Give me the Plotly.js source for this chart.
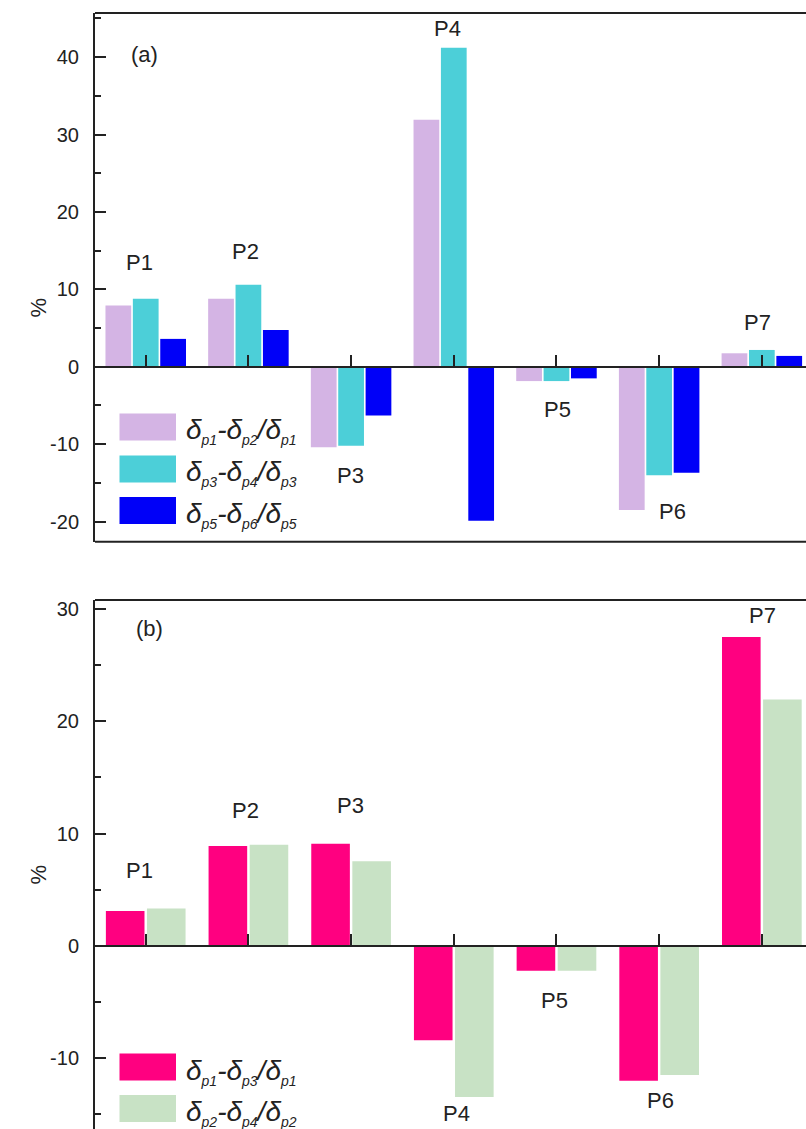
<!DOCTYPE html>
<html>
<head>
<meta charset="utf-8">
<script src="https://cdn.plot.ly/plotly-3.0.1.min.js"></script>
<style>html,body{margin:0;padding:0;background:#fff;}#chart{width:806px;height:1129px;}</style>
</head>
<body>
<div id="chart"></div>
<script>
// ---------- DATA ----------
const categories = ['P1', 'P2', 'P3', 'P4', 'P5', 'P6', 'P7'];
// panel (a)
const seriesA1 = [7.9, 8.8, -10.4, 31.9, -1.85, -18.5, 1.74];
const seriesA2 = [8.8, 10.6, -10.2, 41.2, -1.85, -14.0, 2.17];
const seriesA3 = [3.6, 4.75, -6.3, -19.9, -1.5, -13.7, 1.4];
// panel (b)
const seriesB1 = [3.12, 8.9, 9.1, -8.4, -2.2, -12.0, 27.5];
const seriesB2 = [3.34, 9.0, 7.55, -13.45, -2.2, -11.5, 21.95];
// legend names: subscripts of [numerator a, numerator b, denominator]
const legendSubsA = [['p1', 'p2', 'p1'], ['p3', 'p4', 'p3'], ['p5', 'p6', 'p5']];
const legendSubsB = [['p1', 'p3', 'p1'], ['p2', 'p4', 'p2']];
// tick labels
const tickValsA = [-20, -10, 0, 10, 20, 30, 40];
const tickTextA = ['-20', '-10', '0', '10', '20', '30', '40'];
const tickValsB = [-10, 0, 10, 20, 30];
const tickTextB = ['-10', '0', '10', '20', '30'];
const panelTitles = ['(a)', '(b)'];
const yTitle = '%';

// ---------- STYLE / LAYOUT ----------
const W = 806, H = 1129, ML = 95;
const fx = px => (px - ML) / (W - ML);
const fy = py => 1 - py / H;
const colorsA = ['#D4B4E4', '#4CCFD8', '#0000F8'];
const colorsB = ['#FF0080', '#C8E2C5'];
const ink = '#222222';
const font = 'Arial, "Liberation Sans", sans-serif';

const sub = s => '<sub><span style="font-size:14px">' + s + '</span></sub>';
const legendName = subs => '<i>δ' + sub(subs[0]) + '-δ' + sub(subs[1]) + '/δ' + sub(subs[2]) + '</i>';
const namesA = legendSubsA.map(legendName);
const namesB = legendSubsB.map(legendName);

const domA = [fy(541.7), fy(13)];
const domB = [0, fy(600)];
const rangeA = [-22.6, 45.7];
const rangeB = [-16.3, 30.8];
const xRange = [-0.494, 6.43];
const zeroPos = (dom, r) => dom[0] + (0 - r[0]) / (r[1] - r[0]) * (dom[1] - dom[0]);

const traces = [];
[seriesA1, seriesA2, seriesA3].forEach((s, i) => traces.push({
  type: 'bar', x: categories, y: s, name: namesA[i], xaxis: 'x', yaxis: 'y',
  marker: {color: colorsA[i], line: {width: 0}}, showlegend: false, hoverinfo: 'y'
}));
[seriesB1, seriesB2].forEach((s, i) => traces.push({
  type: 'bar', x: categories, y: s, name: namesB[i], xaxis: 'x2', yaxis: 'y2',
  marker: {color: colorsB[i], line: {width: 0}}, showlegend: false, hoverinfo: 'y'
}));

function yAxis(dom, range, tv, tt, anchor) {
  return {
    domain: dom, range: range, anchor: anchor, showgrid: false, zeroline: false,
    showline: true, linecolor: ink, linewidth: 2,
    ticks: 'inside', ticklen: 11, tickwidth: 2, tickcolor: ink,
    tickmode: 'array', tickvals: tv, ticktext: tt, ticklabelstandoff: 10,
    tickfont: {family: font, size: 20, color: ink},
    minor: {dtick: 5, tick0: 0, ticks: 'inside', ticklen: 6, tickwidth: 2, tickcolor: ink, showgrid: false}
  };
}
function xAxis(pos) {
  return {
    domain: [0, 1], range: xRange, type: 'category', anchor: 'free', position: pos,
    showgrid: false, zeroline: false, showline: true, linecolor: ink, linewidth: 2,
    ticks: 'inside', ticklen: 11, tickwidth: 2, tickcolor: ink, showticklabels: false
  };
}

const annotations = [];
const shapes = [];
// frame lines
[domA[0], domA[1], domB[1]].forEach(v => shapes.push({
  type: 'line', xref: 'paper', yref: 'paper', x0: 0, x1: 1.01, y0: v, y1: v,
  line: {color: ink, width: 2}
}));

// point labels, anchored to the group's extreme bar
const shiftA = {x: [-6, -3, -1, -6, 1.5, 13.5, -4], y: [36.6, 32.7, -28.7, 19.7, -28.4, -1.4, 27.5]};
const shiftB = {x: [-6, -3, -1, 3, -1.5, 1, 1], y: [38, 34.7, 38.6, -16.8, -29.6, -19.6, 21.6]};
function extreme(arrs, i) {
  const vals = arrs.map(a => a[i]);
  const mx = Math.max(...vals), mn = Math.min(...vals);
  return mx > 0 ? mx : mn;
}
categories.forEach((c, i) => {
  annotations.push({text: c, x: c, y: extreme([seriesA1, seriesA2, seriesA3], i), xref: 'x', yref: 'y',
    showarrow: false, xanchor: 'center', yanchor: 'middle', xshift: shiftA.x[i], yshift: shiftA.y[i],
    font: {family: font, size: 22, color: ink}});
  annotations.push({text: c, x: c, y: extreme([seriesB1, seriesB2], i), xref: 'x2', yref: 'y2',
    showarrow: false, xanchor: 'center', yanchor: 'middle', xshift: shiftB.x[i], yshift: shiftB.y[i],
    font: {family: font, size: 22, color: ink}});
});

// panel titles and y titles
annotations.push({text: panelTitles[0], xref: 'paper', yref: 'paper', x: fx(128.5), y: fy(40),
  showarrow: false, font: {family: font, size: 22, color: ink}});
annotations.push({text: panelTitles[1], xref: 'paper', yref: 'paper', x: fx(134), y: fy(628),
  showarrow: false, font: {family: font, size: 22, color: ink}});
annotations.push({text: yTitle, xref: 'paper', yref: 'paper', x: fx(23), y: fy(296), textangle: -90,
  showarrow: false, font: {family: font, size: 22, color: ink}});
annotations.push({text: yTitle, xref: 'paper', yref: 'paper', x: fx(23), y: fy(887), textangle: -90,
  showarrow: false, font: {family: font, size: 22, color: ink}});

// custom legends
function legend(names, colors, tops) {
  names.forEach((n, i) => {
    const t = tops[i];
    shapes.push({type: 'rect', xref: 'paper', yref: 'paper', x0: fx(119.5), x1: fx(176), y0: fy(t), y1: fy(t + 27),
      fillcolor: colors[i], line: {width: 0}});
    annotations.push({text: n, xref: 'paper', yref: 'paper', x: fx(184), y: fy(t + 18), xanchor: 'left', yanchor: 'middle',
      showarrow: false, font: {family: font, size: 28, color: ink}});
  });
}
legend(namesA, colorsA, [413.5, 455.5, 497]);
legend(namesB, colorsB, [1053.5, 1095]);

const layout = {
  width: W, height: H, margin: {l: ML, r: 0, t: 0, b: 0},
  paper_bgcolor: '#fff', plot_bgcolor: '#fff',
  barmode: 'group', bargap: 0.2, bargroupgap: 0.06,
  showlegend: false,
  xaxis: xAxis(zeroPos(domA, rangeA)),
  yaxis: yAxis(domA, rangeA, tickValsA, tickTextA, 'x'),
  xaxis2: xAxis(zeroPos(domB, rangeB)),
  yaxis2: yAxis(domB, rangeB, tickValsB, tickTextB, 'x2'),
  annotations: annotations, shapes: shapes
};

Plotly.newPlot('chart', traces, layout, {displayModeBar: false, staticPlot: true});
</script>
</body>
</html>
